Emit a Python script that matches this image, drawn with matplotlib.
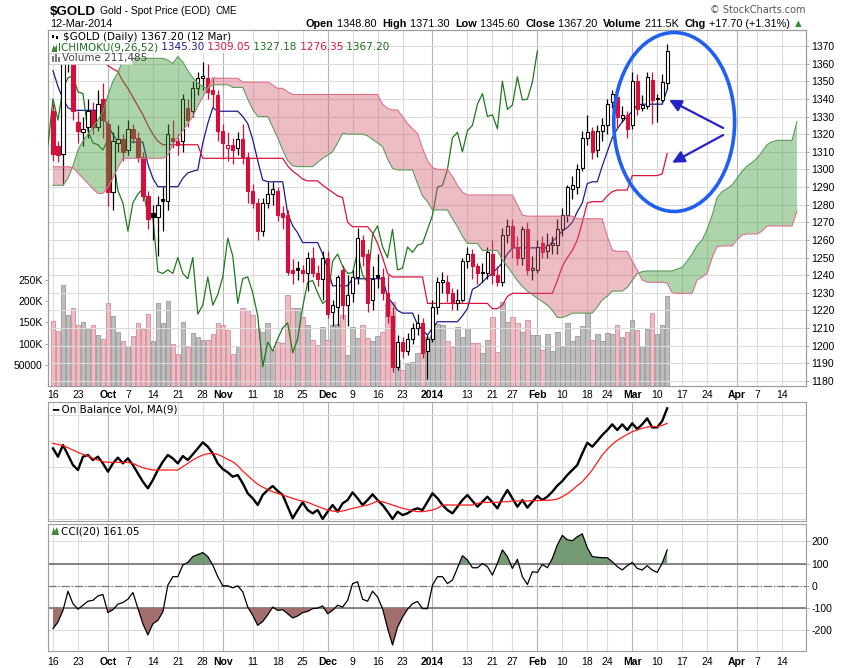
import numpy as np
import matplotlib
matplotlib.use('Agg')
import matplotlib.pyplot as plt
from matplotlib.patches import Ellipse, Rectangle, Polygon

# ---- price data, one entry per trading day from 16-Sep-2013 to 12-Mar-2014 ----
close_before_start = 1326.0
opens = [1333, 1313, 1309, 1362, 1368, 1327, 1321, 1324, 1333, 1324,
         1340, 1326, 1287, 1315, 1317, 1311, 1323, 1318, 1307, 1285,
         1275, 1273, 1283, 1282, 1318, 1316, 1316, 1335, 1333, 1346,
         1352, 1352, 1345, 1342, 1322, 1312, 1314, 1312, 1317, 1307,
         1288, 1281, 1265, 1281, 1286, 1288, 1275, 1274, 1243, 1244,
         1243, 1241, 1250, 1241, 1238, 1250, 1219, 1222, 1243, 1223,
         1230, 1239, 1260, 1252, 1226, 1240, 1239, 1230, 1217, 1188,
         1202, 1197, 1204, 1210, 1213, 1197, 1204, 1222, 1236, 1236,
         1230, 1224, 1226, 1248, 1252, 1245, 1242, 1241, 1252, 1240,
         1236, 1263, 1268, 1256, 1250, 1266, 1243, 1243, 1258, 1254,
         1257, 1257, 1266, 1274, 1289, 1290, 1301, 1318, 1322, 1311,
         1322, 1325, 1338, 1341, 1329, 1331, 1325, 1350, 1335, 1336,
         1350.5, 1340.5, 1339.5, 1348.8]
highs = [1337, 1316, 1366, 1374, 1370, 1333, 1330, 1340, 1338, 1345,
         1349, 1328, 1321, 1325, 1320, 1328, 1326, 1321, 1310, 1288,
         1280, 1285, 1290, 1326, 1328, 1320, 1343, 1340, 1350, 1355,
         1361, 1360, 1352, 1345, 1326, 1321, 1318, 1321, 1326, 1310,
         1292, 1284, 1284, 1293, 1293, 1290, 1279, 1277, 1249, 1248,
         1246, 1253, 1256, 1246, 1254, 1254, 1226, 1240, 1246, 1240,
         1243, 1267, 1263, 1255, 1245, 1252, 1244, 1240, 1222, 1206,
         1205, 1207, 1213, 1218, 1216, 1206, 1226, 1239, 1242, 1240,
         1233, 1232, 1250, 1256, 1255, 1247, 1247, 1256, 1260, 1245,
         1267, 1272, 1272, 1262, 1268, 1270, 1251, 1260, 1262, 1264,
         1262, 1272, 1278, 1291, 1296, 1303, 1322, 1331, 1324, 1325,
         1329, 1340, 1345, 1343, 1336, 1333, 1355, 1354, 1342, 1355,
         1355, 1343, 1354, 1371.3]
lows = [1305, 1304, 1291, 1355, 1328, 1315, 1313, 1318, 1320, 1322,
        1318, 1279, 1277, 1310, 1305, 1308, 1315, 1304, 1282, 1266,
        1260, 1251, 1265, 1277, 1312, 1308, 1310, 1324, 1330, 1342,
        1345, 1340, 1335, 1316, 1306, 1305, 1303, 1308, 1303, 1281,
        1278, 1260, 1262, 1278, 1280, 1271, 1266, 1240, 1235, 1237,
        1236, 1231, 1239, 1234, 1226, 1216, 1211, 1211, 1215, 1211,
        1225, 1235, 1245, 1219, 1220, 1233, 1226, 1213, 1185, 1186,
        1193, 1195, 1201, 1206, 1193, 1181, 1202, 1218, 1230, 1225,
        1220, 1220, 1225, 1244, 1238, 1235, 1236, 1238, 1235, 1234,
        1234, 1258, 1250, 1246, 1246, 1240, 1237, 1241, 1250, 1250,
        1252, 1252, 1262, 1270, 1283, 1286, 1299, 1314, 1306, 1307,
        1316, 1320, 1335, 1323, 1327, 1318, 1323, 1331, 1333, 1334,
        1326, 1327, 1338, 1345.6]
closes = [1309, 1308, 1362, 1368, 1333, 1322, 1323, 1333, 1324, 1337,
          1328, 1287, 1316, 1317, 1310, 1323, 1318, 1307, 1285, 1272,
          1273, 1280, 1282, 1320, 1316, 1314, 1340, 1328, 1346, 1352,
          1353, 1344, 1343, 1322, 1315, 1314, 1311, 1317, 1307, 1288,
          1281, 1265, 1281, 1286, 1289, 1274, 1273, 1242, 1241, 1243,
          1241, 1250, 1241, 1238, 1250, 1218, 1223, 1239, 1223, 1229,
          1239, 1261, 1251, 1224, 1238, 1239, 1230, 1217, 1188, 1202,
          1197, 1204, 1210, 1213, 1196, 1204, 1222, 1236, 1237, 1230,
          1224, 1226, 1248, 1252, 1245, 1241, 1241.5, 1253, 1240, 1236,
          1263, 1268, 1256, 1250, 1266, 1243, 1244, 1256, 1253, 1257,
          1258, 1266, 1274, 1290, 1291, 1300, 1318, 1321, 1310, 1322,
          1325, 1337, 1343, 1330, 1331, 1323, 1350, 1334, 1336.5, 1352.5,
          1339.4, 1339.8, 1349.5, 1367.2]
volume_k = [153, 130, 238, 167, 185, 144, 150, 134, 144, 120,
            112, 197, 166, 127, 106, 94, 119, 148, 134, 171,
            106, 195, 148, 200, 98, 75, 150, 93, 124, 116,
            108, 108, 123, 149, 144, 132, 75, 94, 183, 179,
            167, 136, 127, 149, 85, 104, 101, 215, 185, 183,
            163, 145, 108, 97, 140, 108, 144, 146, 167, 73,
            140, 114, 144, 114, 106, 118, 128, 195, 199, 61,
            38, 53, 57, 77, 77, 116, 120, 146, 144, 105,
            93, 140, 116, 136, 101, 101, 77, 108, 163, 81,
            199, 152, 163, 148, 128, 156, 120, 120, 86, 123,
            83, 128, 93, 148, 105, 118, 142, 173, 108, 123,
            105, 126, 123, 144, 116, 128, 156, 132, 94, 134,
            173, 123, 145, 211.485]

# ---- Ichimoku(9,26,52) ----
tenkan = [1356, 1347, 1340, 1335, 1333.5, 1333.5, 1333.5, 1333.5, 1333.5, 1333.5,
          1330, 1325, 1320, 1315.5, 1315.5, 1315.5, 1315.5, 1315.5, 1315.5, 1303,
          1295, 1290.2, 1290.2, 1290.2, 1290.2, 1290.2, 1295, 1298, 1299, 1299.7,
          1315, 1326, 1335, 1333, 1333, 1333, 1333, 1333, 1330, 1326,
          1317, 1305, 1294, 1293, 1293, 1293, 1293, 1275, 1268, 1264,
          1258.5, 1258.5, 1258.5, 1258.5, 1252, 1244, 1234, 1234, 1234, 1234,
          1238, 1238, 1238, 1238, 1238, 1238, 1238, 1228, 1224, 1220,
          1218.5, 1218.5, 1218.5, 1212, 1209, 1206, 1210, 1213.6, 1213.6, 1213.6,
          1213.6, 1213.6, 1217, 1221, 1232, 1233.5, 1236, 1239, 1241, 1244,
          1247, 1252, 1255.5, 1255.5, 1255.5, 1255.5, 1255.5, 1255.5, 1255.5, 1255.5,
          1259, 1262, 1265, 1267, 1270, 1276, 1281, 1292, 1293, 1293,
          1302, 1310, 1318, 1323, 1327, 1330, 1333, 1336.5, 1337, 1337,
          1337, 1337, 1337, 1345.3]
kijun = [1361, 1361, 1361, 1361, 1361, 1361, 1361, 1361, 1361, 1361,
         1361, 1359, 1357, 1355.5, 1350, 1346, 1341, 1336, 1331, 1325,
         1320, 1316, 1314, 1314, 1314, 1314, 1314, 1314, 1314, 1314,
         1306.3, 1306.3, 1306.3, 1306.3, 1306.3, 1306.3, 1306.3, 1306.3, 1306.3, 1306.3,
         1306.3, 1306.3, 1306.3, 1306.3, 1306.3, 1306.3, 1306.3, 1302, 1299, 1297,
         1294.5, 1293.5, 1293.5, 1293.5, 1291, 1289, 1287, 1285, 1284, 1270,
         1267.5, 1267.5, 1267.5, 1267.5, 1264, 1258, 1250, 1241, 1239, 1239,
         1239, 1239, 1239, 1239, 1239, 1224, 1224, 1224, 1224, 1224,
         1224, 1224, 1224, 1224, 1224, 1224, 1224, 1224, 1221, 1221,
         1223, 1228, 1229.7, 1229.7, 1229.7, 1229.7, 1229.7, 1229.7, 1229.7, 1229.7,
         1229.7, 1237, 1245, 1250, 1254, 1260, 1270, 1281, 1281.7, 1281.7,
         1281.7, 1285, 1287.4, 1288.3, 1288.3, 1288.3, 1296.5, 1296.5, 1296.5, 1296.5,
         1296.5, 1296.5, 1297.5, 1309.05]
# leading spans run 26 days past the last bar
senkou_a = [1291, 1291, 1291, 1295, 1302, 1311, 1316, 1320, 1324, 1328,
            1333, 1342, 1350, 1355, 1362, 1363, 1363, 1363, 1363, 1363,
            1363, 1363, 1363, 1362, 1360, 1364, 1361, 1356, 1352, 1349,
            1347, 1346, 1348, 1348, 1348, 1348, 1346.5, 1346.5, 1346.5, 1340,
            1334, 1330, 1330, 1330, 1324, 1318, 1311, 1305, 1302, 1301.6,
            1301.6, 1301.6, 1301.6, 1304, 1306.3, 1308, 1310, 1315, 1320.5, 1320,
            1320, 1320, 1320, 1319, 1317, 1315, 1312.9, 1306, 1300.6, 1299.7,
            1299.7, 1299.7, 1299.7, 1292, 1285, 1281.7, 1277, 1277, 1277, 1277,
            1272, 1267.5, 1262, 1258, 1258, 1258, 1254, 1254, 1254, 1254,
            1248.6, 1245, 1241, 1237, 1233.5, 1231, 1229, 1227, 1225, 1223,
            1220, 1216, 1216, 1217, 1218.5, 1218.5, 1218.5, 1218.5, 1218.5, 1222,
            1226, 1228, 1231, 1231, 1231, 1233, 1237, 1241, 1242, 1242.4,
            1242.4, 1242.4, 1242.4, 1242.4, 1242.4, 1243.5, 1244.5, 1248, 1252, 1257,
            1260, 1266, 1274, 1284, 1287.5, 1289, 1291.2, 1295, 1299, 1302,
            1304, 1306.3, 1310, 1314, 1315.7, 1316.5, 1316.5, 1316.5, 1316.5, 1327.18]
senkou_b = [1301.5, 1301.5, 1301.5, 1301.5, 1301, 1298, 1295, 1292, 1289, 1286.4,
            1286.4, 1290, 1295, 1301, 1306.3, 1306.3, 1306.3, 1306.3, 1306.3, 1306.3,
            1306.3, 1306.3, 1306.3, 1308, 1314, 1318, 1322, 1326, 1330, 1336,
            1341, 1346, 1352, 1351.7, 1351.7, 1351.7, 1351.7, 1351.7, 1349.5, 1349.5,
            1349.5, 1349.5, 1349.5, 1349.5, 1347.9, 1346, 1346, 1344, 1342.5, 1342.5,
            1342.5, 1342.5, 1342.5, 1342.5, 1342.5, 1342.5, 1342.5, 1342.5, 1342.5, 1342.5,
            1342.5, 1342.5, 1342.5, 1342.5, 1342.5, 1342.5, 1337, 1334.6, 1333.7, 1333.7,
            1330, 1326, 1323, 1320.5, 1312, 1305, 1301, 1300, 1300, 1300,
            1296, 1291, 1287, 1285.5, 1285.5, 1285.5, 1285.5, 1285.5, 1285.5, 1285.5,
            1285.5, 1285.5, 1285.5, 1280, 1274.1, 1273.5, 1273.5, 1273.5, 1273.5, 1273.5,
            1273.5, 1273.5, 1273.5, 1273.5, 1273.5, 1272, 1272, 1272, 1272, 1272,
            1272, 1262, 1254.3, 1253.5, 1253.5, 1253.5, 1248, 1243, 1237.3, 1236,
            1236, 1236, 1236, 1235.4, 1230, 1229.7, 1229.7, 1229.7, 1229.7, 1237.3,
            1239, 1241, 1250, 1256.2, 1256.6, 1256.6, 1256.6, 1260, 1262.8, 1263.4,
            1263.4, 1263.4, 1265, 1267.9, 1267.9, 1267.9, 1267.9, 1267.9, 1267.9, 1276.35]

# ---- On Balance Volume (thousands, relative) and its 9-day MA ----
obv = [1092, 964, 1143, 990, 836, 759, 964, 990, 913, 964,
       861, 733, 861, 949, 861, 938, 836, 707, 579, 477,
       605, 759, 887, 990, 938, 861, 974, 913, 1000, 1092,
       1185, 1118, 1015, 861, 774, 723, 656, 682, 554, 400,
       323, 220, 374, 451, 512, 436, 374, 194, 15, 143,
       261, 143, 92, 143, 5, 118, 220, 118, 246, 297,
       415, 323, 220, 297, 384, 297, 220, 118, 5, 118,
       66, 92, 143, 169, 143, 271, 400, 323, 220, 143,
       92, 194, 297, 374, 282, 194, 271, 348, 261, 169,
       323, 451, 323, 194, 297, 179, 271, 359, 297, 348,
       425, 518, 589, 682, 759, 836, 1015, 1179, 1118, 1205,
       1297, 1374, 1462, 1374, 1462, 1374, 1477, 1390, 1462, 1554,
       1415, 1415, 1513, 1708]
obv_ma = [1169, 1154, 1133, 1102, 1067, 1031, 1000, 974, 938, 913,
          887, 877, 877, 877, 877, 877, 861, 825, 795, 774,
          759, 759, 759, 759, 759, 759, 810, 861, 913, 954,
          990, 1010, 1015, 1000, 964, 923, 887, 825, 743, 672,
          605, 538, 497, 456, 425, 400, 374, 348, 323, 297,
          282, 261, 230, 200, 169, 143, 128, 118, 128, 148,
          169, 184, 205, 220, 246, 282, 271, 246, 220, 194,
          169, 153, 133, 118, 118, 128, 143, 169, 220, 220,
          220, 220, 220, 220, 220, 246, 261, 261, 261, 261,
          271, 271, 282, 282, 282, 282, 287, 287, 292, 292,
          297, 312, 348, 395, 451, 518, 579, 666, 759, 877,
          990, 1077, 1154, 1215, 1262, 1308, 1349, 1374, 1400, 1421,
          1426, 1426, 1446, 1477]

# ---- CCI(20) ----
cci = [-192, -162, -110, -24, -80, -105, -87, -69, -65, -45,
       -39, -120, -107, -82, -75, -60, -30, -100, -170, -220,
       -170, -155, -117, 3, 41, 41, 93, 105, 131, 140,
       149, 131, 93, 41, 0, 0, -9, 0, -27, -95,
       -132, -177, -160, -130, -95, -110, -107, -125, -144, -135,
       -120, -115, -102, -100, -90, -125, -110, -87, -95, -65,
       10, 18, -60, -69, -24, -50, -102, -190, -265, -185,
       -140, -105, -80, -70, -102, -102, 3, 41, 41, 10,
       26, 80, 135, 116, 81, 81, 100, 86, 48, 101,
       161, 131, 78, 119, 41, 6, 63, 60, 96, 81,
       123, 183, 226, 206, 202, 220, 233, 170, 131, 128,
       126, 126, 108, 86, 71, 90, 105, 78, 71, 90,
       71, 60, 101, 161.05]

# ---- axis labels ----
tick_days = [0, 5, 11, 15, 20, 25, 30, 34, 40, 45, 50, 55, 60, 65, 70, 76, 83, 88, 92,
             97, 102, 107, 111, 116, 121, 126, 131, 137, 141, 146]
tick_labels = ['16', '23', 'Oct', '7', '14', '21', '28', 'Nov', '11', '18', '25', 'Dec',
               '9', '16', '23', '2014', '13', '21', '27', 'Feb', '10', '18', '24', 'Mar',
               '10', '17', '24', 'Apr', '7', '14']
month_names = ['Oct', 'Nov', 'Dec', '2014', 'Feb', 'Mar', 'Apr']
price_ticks = list(range(1180, 1371, 10))
vol_ticks = [50, 100, 150, 200, 250]
vol_tick_labels = ['50000', '100K', '150K', '200K', '250K']
cci_ticks = [-200, -100, 0, 100, 200]

W, H = 850, 668
def fx(px):
    return px / W
def fy(py):
    return 1 - py / H

RED = '#d3103c'
GRID = '#dcdcdc'
MONTH_GRID = '#b4b4b4'
SPINE = '#9c9c9c'
TICKFONT = dict(family='Liberation Sans', size=7.5)

fig = plt.figure(figsize=(8.5, 6.68), dpi=100)
fig.patch.set_facecolor('white')

left, right = 48, 806
ax_vol = fig.add_axes([fx(left), fy(386), fx(right) - fx(left), fy(30) - fy(386)])
ax = ax_vol.twinx()
ax_obv = fig.add_axes([fx(left), fy(521), fx(right) - fx(left), fy(402) - fy(521)], sharex=ax_vol)
ax_cci = fig.add_axes([fx(left), fy(651), fx(right) - fx(left), fy(524) - fy(651)], sharex=ax_vol)

days = np.arange(len(closes))
o = np.array(opens, float)
hi = np.array(highs, float)
lo = np.array(lows, float)
c = np.array(closes, float)
prev = np.concatenate([[close_before_start], c[:-1]])
up = c >= prev
edge_cols = ['black' if u else RED for u in up]
face_cols = ['white' if cc > oo else col for cc, oo, col in zip(c, o, edge_cols)]

# volume in the background
vol_face = ['#bdbdbd' if u else '#ebbcc3' for u in up]
vol_edge = ['#999999' if u else '#d98a98' for u in up]
ax_vol.bar(days, volume_k, width=0.9, color=vol_face, edgecolor=vol_edge, linewidth=0.6, zorder=1)
ax_vol.set_ylim(0, 840)
ax_vol.set_yticks(vol_ticks)
ax_vol.set_yticklabels(vol_tick_labels, **TICKFONT)
ax_vol.set_axisbelow(True)

# candles
ax.vlines(days, lo, hi, colors=edge_cols, linewidth=0.9, zorder=4)
ax.bar(days, np.maximum(np.abs(c - o), 0.35), bottom=np.minimum(o, c), width=0.66,
       color=face_cols, edgecolor=edge_cols, linewidth=0.8, zorder=5)

# ichimoku lines
ax.plot(days, tenkan, color='#1c1c8c', lw=0.9, zorder=3)
ax.plot(days, kijun, color='#dc143c', lw=0.9, zorder=3)
ax.plot(days - 26, closes, color='#1f7a1f', lw=0.9, zorder=3)
cloud_days = np.arange(len(senkou_a))
sa = np.array(senkou_a)
sb = np.array(senkou_b)
ax.fill_between(cloud_days, sa, sb, where=sa >= sb, interpolate=True,
                facecolor='#3f9a37', alpha=0.42, lw=0, zorder=6)
ax.fill_between(cloud_days, sa, sb, where=sa < sb, interpolate=True,
                facecolor='#d05a70', alpha=0.4, lw=0, zorder=6)
ax.plot(cloud_days, sa, color='#5b9e5b', lw=0.8, zorder=6)
ax.plot(cloud_days, sb, color='#e0708a', lw=0.8, zorder=6)

ax.set_xlim(-1, 150.8)
ax.set_ylim(1177.15, 1379.08)
ax.set_yticks(price_ticks)
ax.set_yticklabels([str(p) for p in price_ticks], **TICKFONT)
ax.grid(axis='y', color=GRID, lw=0.8, zorder=0)

# annotation: ellipse and arrows
ax.add_patch(Ellipse((124.4, 1326.9), 24.2, 101.5, fill=False, edgecolor='#1f60f0',
                     lw=2.6, zorder=10, clip_on=False))
for tail, tip in [((134.2, 1323.5), (123.4, 1339.4)), ((134.2, 1319.5), (124.0, 1303.8))]:
    ax.annotate('', xy=tip, xytext=tail,
                arrowprops=dict(arrowstyle='-|>', color='#2323c8', lw=1.6,
                                mutation_scale=18, shrinkA=0, shrinkB=0), zorder=10)

# OBV panel
ax_obv.plot(days, obv, color='black', lw=1.7, zorder=3)
ax_obv.plot(days, obv_ma, color='#ff1a1a', lw=0.9, zorder=4)
ax_obv.set_ylim(-26, 1806)
ax_obv.set_yticks([0, 400, 800, 1200, 1600])
ax_obv.set_yticklabels([])
ax_obv.grid(axis='y', color=GRID, lw=0.8)

# CCI panel
cc = np.array(cci, float)
ax_cci.plot(days, cc, color='black', lw=0.9, zorder=4)
ax_cci.fill_between(days, cc, 100, where=cc >= 100, interpolate=True, facecolor='#759b75', zorder=3)
ax_cci.fill_between(days, cc, -100, where=cc <= -100, interpolate=True, facecolor='#a56e6e', zorder=3)
ax_cci.axhline(100, color='#666666', lw=1.1, zorder=2)
ax_cci.axhline(-100, color='#666666', lw=1.1, zorder=2)
ax_cci.axhline(0, color='#777777', lw=0.9, ls='-.', zorder=2)
ax_cci.set_ylim(-292, 277)
ax_cci.set_yticks(cci_ticks)
ax_cci.set_yticklabels([str(v) for v in cci_ticks], **TICKFONT)
ax_cci.yaxis.tick_right()
ax_cci.grid(axis='y', color=GRID, lw=0.8)

# shared formatting
for a in (ax_vol, ax_obv, ax_cci):
    a.set_xticks(tick_days)
    a.grid(axis='x', color=GRID, lw=0.8)
    for gl, lab in zip(a.get_xgridlines(), tick_labels):
        if lab in month_names:
            gl.set_color(MONTH_GRID)
for a in (ax_vol, ax, ax_obv, ax_cci):
    for s in a.spines.values():
        s.set_color(SPINE)
    a.tick_params(length=2, width=0.6, color=SPINE, pad=2)
ax_obv.tick_params(length=0, labelbottom=False, labelleft=False)
for a in (ax_vol, ax_cci):
    a.set_xticklabels(tick_labels, **TICKFONT)
    for t in a.get_xticklabels():
        if t.get_text() in month_names:
            t.set_fontweight('bold')
ax_vol.tick_params(axis='x', length=0, pad=3)
ax_cci.tick_params(axis='x', length=0, pad=4)

# ---- header ----
renderer = fig.canvas.get_renderer()

def put_run(x_px, y_px, parts, family, size, **kw):
    for s, weight, col in parts:
        t = fig.text(fx(x_px), fy(y_px), s, family=family, size=size, weight=weight,
                     color=col, va='center', ha='left', **kw)
        x_px += t.get_window_extent(renderer).width
    return x_px

def fig_rect(x0, y0, x1, y1, **kw):
    fig.add_artist(Rectangle((fx(x0), fy(y1)), fx(x1) - fx(x0), fy(y0) - fy(y1),
                             transform=fig.transFigure, **kw))

def fig_poly(points, **kw):
    fig.add_artist(Polygon([(fx(px), fy(py)) for px, py in points], closed=True,
                           transform=fig.transFigure, **kw))

x_end = put_run(50, 12, [('$GOLD', 'bold', 'black')], 'Liberation Sans', 9.6)
x_end = put_run(x_end + 4, 11, [('Gold - Spot Price (EOD)', 'normal', 'black')], 'Liberation Sans', 7.4)
fig.text(fx(x_end + 5), fy(11), 'CME', family='Liberation Sans', size=7, va='center')
fig.text(fx(50), fy(24), '12-Mar-2014', family='Liberation Sans', size=7.8, va='center')
fig.text(fx(806), fy(10), '\u00a9 StockCharts.com', family='DejaVu Sans', size=7,
         color='#555555', ha='right', va='center')

head = [('Open', 'bold', 'black'), (' 1348.80  ', 'normal', 'black'),
        ('High', 'bold', 'black'), (' 1371.30  ', 'normal', 'black'),
        ('Low', 'bold', 'black'), (' 1345.60  ', 'normal', 'black'),
        ('Close', 'bold', 'black'), (' 1367.20  ', 'normal', 'black'),
        ('Volume', 'bold', 'black'), (' 211.5K  ', 'normal', 'black'),
        ('Chg', 'bold', 'black'), (' +17.70 (+1.31%) ', 'normal', 'black'),
        ('\u25b2', 'normal', '#2e8b2e')]
put_run(306, 24, head, 'Liberation Sans', 7.8)

# ---- legends inside the panels, on white backing like the original ----
fig_rect(49, 31, 248, 42, facecolor='white', edgecolor='none', zorder=15)
fig_rect(49, 42, 326, 53, facecolor='white', edgecolor='none', zorder=15)
fig_rect(49, 53, 132, 63.5, facecolor='white', edgecolor='#cfcfcf', lw=0.6, zorder=15)

# small legend icons
for bx, top, bot in [(53, 33, 40), (57, 34, 41)]:
    fig_rect(bx - 0.4, top, bx + 0.4, bot, facecolor='black', edgecolor='none', zorder=16)
    fig_rect(bx - 1.4, top + 2, bx + 1.4, bot - 2, facecolor='black', edgecolor='none', zorder=16)
fig_poly([(51.5, 52), (53.5, 45), (55, 48), (57, 44), (57, 52)], facecolor='#3a8a3a',
         edgecolor='none', zorder=16)
for bx, top in [(53, 56), (56, 54), (59, 57)]:
    fig_rect(bx - 1, top, bx + 1, 62, facecolor='#7a7a7a', edgecolor='none', zorder=16)
fig_poly([(51.5, 535), (53.5, 528), (55, 531), (57, 527), (59, 535)], facecolor='#3a8a3a',
         edgecolor='none', zorder=16)

put_run(63, 36.5, [('$GOLD (Daily) 1367.20 (12 Mar)', 'normal', 'black')], 'DejaVu Sans', 7.5,
        zorder=20)
put_run(58, 47.5, [('ICHIMOKU(9,26,52)', 'normal', '#1f6e1f'), (' 1345.30', 'normal', '#1c1c8c'),
                   (' 1309.05', 'normal', '#dc143c'), (' 1327.18', 'normal', '#1f6e1f'),
                   (' 1276.35', 'normal', '#dc143c'), (' 1367.20', 'normal', '#1f6e1f')],
        'DejaVu Sans', 7.5, zorder=20)
fig.text(fx(62), fy(58.5), 'Volume 211,485', family='DejaVu Sans', size=7.5, color='#444444',
         va='center', zorder=20)
fig.text(fx(52), fy(409), '\u2501 On Balance Vol, MA(9)', family='DejaVu Sans', size=7.5, va='center')
fig.text(fx(61), fy(531), 'CCI(20) 161.05', family='DejaVu Sans', size=7.5, va='center')

fig.savefig('out.png', dpi=100)
